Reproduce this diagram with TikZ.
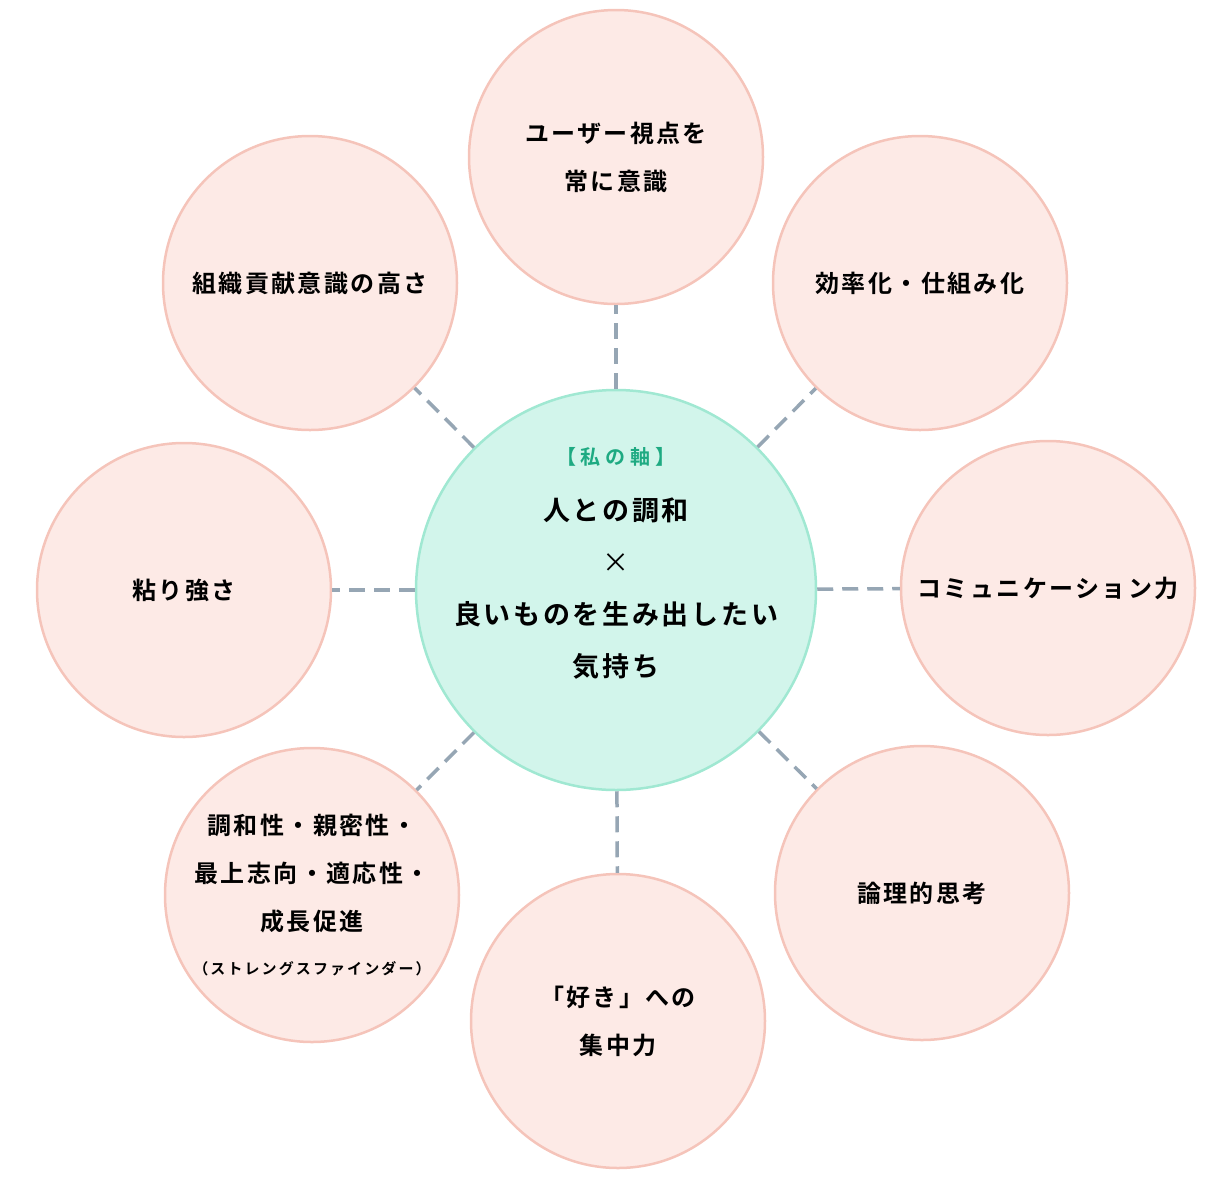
\documentclass[tikz,border=0pt]{standalone}
\usepackage{fontspec}
\setmainfont{Noto Sans CJK JP}[UprightFont=* Bold, LetterSpace=10]
\newfontfamily\thinjp{Noto Sans CJK JP}
\usepackage{tikz}
\definecolor{petalfill}{RGB}{253,234,230}
\definecolor{petalline}{RGB}{245,196,186}
\definecolor{hubfill}{RGB}{210,245,235}
\definecolor{hubline}{RGB}{160,232,210}
\definecolor{dashgray}{RGB}{150,166,180}
\definecolor{axisgreen}{RGB}{30,170,130}
\tikzset{
  petal/.style={circle, draw=petalline, fill=petalfill, line width=2.5pt,
    minimum size=294pt, inner sep=0pt, align=center,
    font=\fontsize{24pt}{48pt}\selectfont},
  hub/.style={circle, draw=hubline, fill=hubfill, line width=2.5pt,
    minimum size=400pt, inner sep=0pt},
  link/.style={dashgray, line width=3.5pt, dash pattern=on 16pt off 9pt},
}

\begin{document}
\begin{tikzpicture}[x=1pt,y=-1pt]
  \useasboundingbox (0,0) rectangle (1232,1179);
  \node[hub] (hub) at (616,590) {};
  \node[align=center, font=\fontsize{27pt}{52pt}\selectfont] (hubtext) at (616,563)
    {{\color{axisgreen}\fontsize{20pt}{52pt}\selectfont\addfontfeatures{LetterSpace=25}【私の軸】}\\[4pt]
     人との調和\\ {\thinjp ×}\\ 良いものを生み出したい\\ 気持ち};
  \node[petal] (user) at (616,157) {ユーザー視点を\\常に意識};
  \node[petal] (effic) at (920,283) {効率化・仕組み化};
  \node[petal] (comm) at (1048,588) {コミュニケーション力};
  \node[petal] (logic) at (922,893) {論理的思考};
  \node[petal] (focus) at (618,1021) {「好き」への\\集中力};
  \node[petal] (traits) at (312,895)
    {調和性・親密性・\\最上志向・適応性・\\成長促進\\[-4pt]
     {\fontsize{15pt}{20pt}\selectfont\addfontfeatures{LetterSpace=14}（ストレングスファインダー）}};
  \node[petal] (grit) at (184,590) {粘り強さ};
  \node[petal] (org) at (310,283) {組織貢献意識の高さ};
  \foreach \p in {user,effic,comm,logic,focus,traits,grit,org}
    \draw[link] (hub) -- (\p);
\end{tikzpicture}
\end{document}
